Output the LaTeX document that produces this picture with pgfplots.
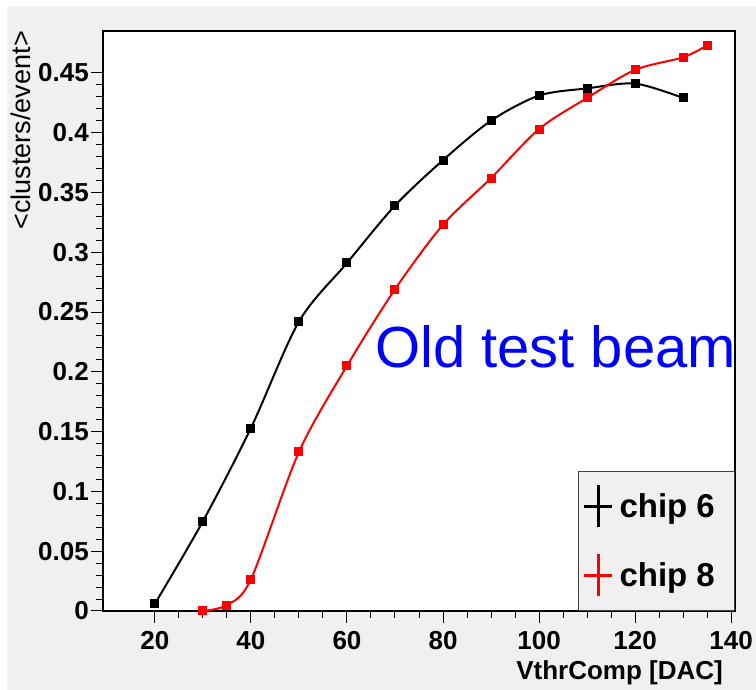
\documentclass[border=0pt]{standalone}
\usepackage{pgfplots}
\pgfplotsset{compat=1.18}
\usepackage{fontspec}
\setmainfont{Liberation Sans}
\definecolor{canvas}{RGB}{240,240,240}
\definecolor{chipred}{RGB}{255,0,0}

\begin{document}
\begin{tikzpicture}[x=1pt,y=1pt]
\useasboundingbox (0,0) rectangle (756,690);
\fill[white] (0,0) rectangle (756,690);
\fill[canvas] (7,0) rectangle (756,684);
\begin{axis}[
  at={(103pt,79pt)}, anchor=south west,
  scale only axis, width=632pt, height=580pt,
  xmin=9.2, xmax=140.8, ymin=0, ymax=0.485,
  clip=false,
  axis background/.style={fill=white},
  axis line style={line width=2pt},
  xtick={20,40,60,80,100,120,140},
  ytick={0,0.05,0.1,0.15,0.2,0.25,0.3,0.35,0.4,0.45},
  minor x tick num=3, minor y tick num=4,
  tick align=outside, tick pos=left,
  major tick length=12pt, minor tick length=7pt,
  every tick/.style={black, line width=1pt},
  /pgf/number format/assume math mode=true,
  tick label style={font=\fontsize{26}{26}\selectfont\bfseries, inner sep=2pt},
  yticklabel style={/pgf/number format/.cd, fixed, precision=2},
  xticklabel style={yshift=-6pt},
  xlabel={VthrComp [DAC]},
  xlabel style={at={(axis description cs:0.981,0)}, anchor=base east,
    yshift=-69pt, inner sep=0pt, font=\fontsize{26}{26}\selectfont\bfseries},
  ylabel={<clusters/event>},
  ylabel style={at={(axis description cs:-0.114,1)}, anchor=base east,
    inner sep=0pt, font=\fontsize{27}{27}\selectfont},
  legend style={at={(rel axis cs:1,0)}, anchor=south east,
    fill=canvas, draw=black!75, line width=1pt,
    inner xsep=4pt, inner ysep=0.5pt, row sep=0pt, column sep=6pt,
    font=\fontsize{33}{33}\selectfont\bfseries,
    cells={anchor=west}, nodes={inner sep=0pt, minimum height=69pt}},
  legend image code/.code={
    \draw[#1, line width=3pt] (14pt,-21pt) -- (14pt,21pt);
    \draw[#1, line width=3pt] (0pt,0pt) -- (28pt,0pt);},
]
% chip 6
\addplot[black, line width=2pt, smooth, mark=square*, mark size=3.5pt]
  coordinates {(20,0.006)(30,0.075)(40,0.153)(50,0.242)(60,0.291)(70,0.339)
               (80,0.377)(90,0.410)(100,0.431)(110,0.437)(120,0.441)(130,0.429)};
\addlegendentry{\makebox[111pt][l]{chip 6}}
% chip 8
\addplot[chipred, line width=2pt, smooth, mark=square*, mark size=3.5pt]
  coordinates {(30,0.0)(35,0.005)(40,0.0265)(50,0.133)(60,0.205)(70,0.269)
               (80,0.323)(90,0.362)(100,0.403)(110,0.429)(120,0.4525)(130,0.463)(135,0.473)};
\addlegendentry{\makebox[111pt][l]{chip 8}}
\node[anchor=base west, inner sep=0pt, text=blue,
      font=\fontsize{58}{58}\selectfont] at (axis cs:65.8,0.2032) {Old test beam};
\end{axis}
\end{tikzpicture}
\end{document}
